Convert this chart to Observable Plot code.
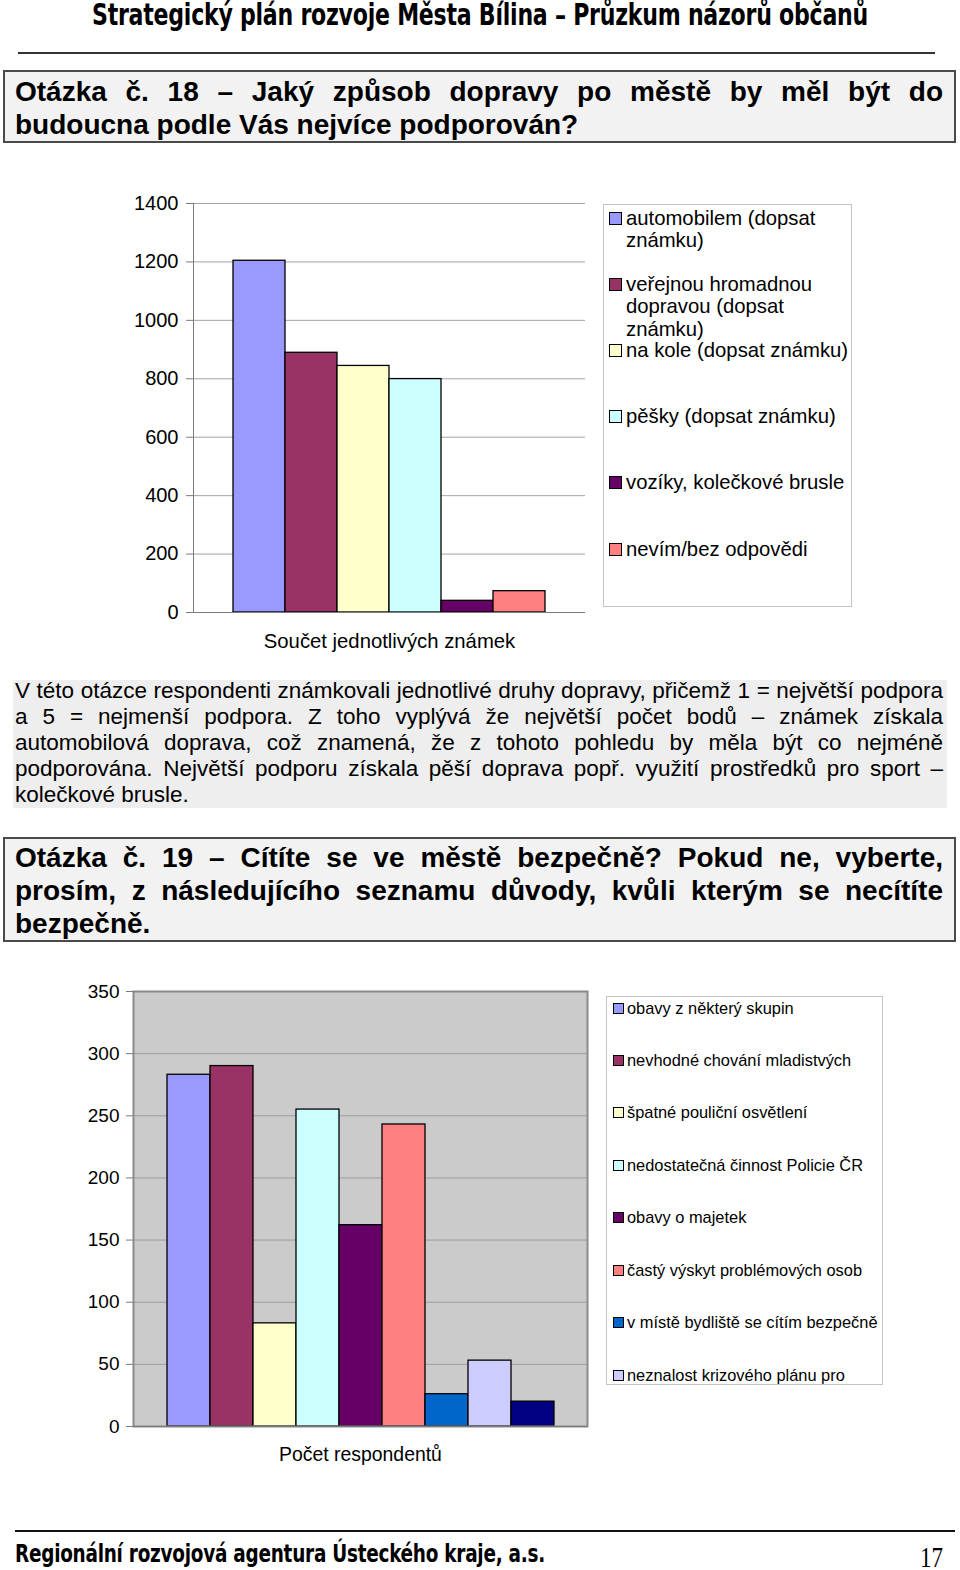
<!DOCTYPE html>
<html lang="cs">
<head>
<meta charset="utf-8">
<script src="https://cdn.jsdelivr.net/npm/d3@7"></script>
<script src="https://cdn.jsdelivr.net/npm/@observablehq/plot@0.6"></script>
<style>
  html, body { margin: 0; padding: 0; background: #fff; }
  body { width: 960px; height: 1570px; position: relative; overflow: hidden;
         font-family: "Liberation Sans", Arial, sans-serif; color: #000; }
  .abs { position: absolute; }
  .deco { font-family: "DejaVu Sans Condensed", "DejaVu Sans", sans-serif; font-weight: bold;
          white-space: nowrap; transform-origin: left top; letter-spacing: -0.3px; }
  .qbox { position: absolute; box-sizing: border-box; border: 2px solid #4a4a4a; background: #f2f2f2; }
  .qtext { position: absolute; font-weight: bold; font-size: 28px; line-height: 33px; }
  .line { display: block; text-align: justify; text-align-last: justify; white-space: nowrap; }
  .line.last { text-align-last: left; }
  .para { position: absolute; font-size: 22.5px; line-height: 26px; }
  .legend { position: absolute; box-sizing: border-box; border: 1px solid #c4c4c4; background: #fff; overflow: hidden; }
  .lg-item { position: absolute; }
  .sw { position: absolute; box-sizing: border-box; border: 1.5px solid #000; }
</style>
</head>
<body>
<script>
// ---------- DATA ----------
const pageTitle = "Strategický plán rozvoje Města Bílina – Průzkum názorů občanů";
const footerText = "Regionální rozvojová agentura Ústeckého kraje, a.s.";
const pageNumber = "17";

const q18Lines = ["Otázka č. 18 – Jaký způsob dopravy po městě by měl být do",
                  "budoucna podle Vás nejvíce podporován?"];
const q18Para = ["V této otázce respondenti známkovali jednotlivé druhy dopravy, přičemž 1 = největší podpora",
                 "a 5 = nejmenší podpora. Z\u00a0toho vyplývá že největší počet bodů – známek získala",
                 "automobilová doprava, což znamená, že z\u00a0tohoto pohledu by měla být co nejméně",
                 "podporována. Největší podporu získala pěší doprava popř. využití prostředků pro sport –",
                 "kolečkové brusle."];
const q19Lines = ["Otázka č. 19 – Cítíte se ve městě bezpečně? Pokud ne, vyberte,",
                  "prosím, z\u00a0následujícího seznamu důvody, kvůli kterým se necítíte",
                  "bezpečně."];

// Chart 1 (Q18)
const chart1Category = "Součet jednotlivých známek";
const modes = ["automobilem (dopsat známku)", "veřejnou hromadnou dopravou (dopsat známku)",
               "na kole (dopsat známku)", "pěšky (dopsat známku)",
               "vozíky, kolečkové brusle", "nevím/bez odpovědi"];
const modeValues = [1204, 889, 844, 799, 40, 73];
const modeColors = ["#9999ff", "#993366", "#ffffcc", "#ccffff", "#660066", "#ff8080"];
const yTicks1 = [0, 200, 400, 600, 800, 1000, 1200, 1400];

// Chart 2 (Q19)
const chart2Category = "Počet respondentů";
const reasons = ["obavy z některý skupin", "nevhodné chování mladistvých", "špatné pouliční osvětlení",
                 "nedostatečná činnost Policie ČR", "obavy o majetek", "častý výskyt problémových osob",
                 "v místě bydliště se cítím bezpečně", "neznalost krizového plánu pro", "jiné"];
const reasonValues = [283, 290, 83, 255, 162, 243, 26, 53, 20];
const reasonColors = ["#9999ff", "#993366", "#ffffcc", "#ccffff", "#660066", "#ff8080", "#0066cc", "#ccccff", "#000080"];
const yTicks2 = [0, 50, 100, 150, 200, 250, 300, 350];
const legend2Visible = 8; // the reference legend box shows only the first 8 entries

// ---------- helpers ----------
function el(tag, cls, style, text) {
  const e = document.createElement(tag);
  if (cls) e.className = cls;
  Object.assign(e.style, style || {});
  if (text != null) e.textContent = text;
  document.body.appendChild(e);
  return e;
}
function fitWidth(e, w) {
  const r = e.getBoundingClientRect().width;
  e.style.transform = `scaleX(${w / r})`;
}
function lines(container, arr) {
  arr.forEach((t, i) => {
    const s = document.createElement("span");
    s.className = "line" + (i === arr.length - 1 ? " last" : "");
    s.textContent = t;
    container.appendChild(s);
  });
}

// ---------- header ----------
const title = el("div", "abs deco", {left: "92px", top: "-1px", fontSize: "30px", lineHeight: "32px"}, pageTitle);
fitWidth(title, 776);
el("div", "abs", {left: "18px", top: "52px", width: "917px", height: "1.5px", background: "#333"});

// Q18 box
el("div", "qbox", {left: "3px", top: "70px", width: "953px", height: "73px"});
lines(el("div", "qtext", {left: "15px", top: "74.5px", width: "928px"}), q18Lines);

// ---------- chart 1 ----------
const data1 = modes.map((m, i) => ({mode: m, value: modeValues[i]}));
const chart1 = Plot.plot({
  width: 600, height: 480,
  marginLeft: 193, marginRight: 15, marginTop: 23, marginBottom: 48,
  style: {fontFamily: "'Liberation Sans', Arial, sans-serif", fontSize: "20px", color: "#000", background: "transparent", overflow: "visible"},
  x: {domain: modes, axis: null, paddingInner: 0, paddingOuter: 0.745},
  y: {domain: [0, 1400]},
  color: {domain: modes, range: modeColors},
  marks: [
    Plot.gridY(yTicks1, {stroke: "#a3a3a3", strokeOpacity: 1}),
    Plot.barY(data1, {x: "mode", y: "value", fill: "mode", stroke: "#000", strokeWidth: 1.3, inset: 0}),
    Plot.ruleY([0], {stroke: "#7a7a7a"}),
    Plot.frame({anchor: "left", stroke: "#7a7a7a"}),
    Plot.axisY({ticks: yTicks1, tickSize: 7, tickPadding: 8, tickFormat: d => String(d), label: null, stroke: "#7a7a7a"}),
    Plot.text([chart1Category], {frameAnchor: "bottom", dy: 35, text: d => d, fontSize: 20.3})
  ]
});
const c1 = el("div", "abs", {left: "0px", top: "180px"});
c1.appendChild(chart1);

// legend 1
const lg1 = el("div", "legend", {left: "603px", top: "204px", width: "249px", height: "403px"});
modes.forEach((m, i) => {
  const top = 1.5 + i * 66.2;
  const it = document.createElement("div");
  it.className = "lg-item";
  Object.assign(it.style, {left: "22px", top: top + "px", width: "226px", fontSize: "20.3px", lineHeight: "22.8px"});
  it.textContent = m;
  lg1.appendChild(it);
  const sw = document.createElement("div");
  sw.className = "sw";
  Object.assign(sw.style, {left: "5px", top: (top + 5) + "px", width: "13px", height: "13px", background: modeColors[i]});
  lg1.appendChild(sw);
});

// paragraph
el("div", "abs", {left: "13px", top: "680px", width: "934px", height: "128px", background: "#eeeeee"});
lines(el("div", "para", {left: "15px", top: "678px", width: "928px"}), q18Para);

// Q19 box
el("div", "qbox", {left: "3px", top: "837px", width: "953px", height: "105px"});
lines(el("div", "qtext", {left: "15px", top: "841px", width: "928px"}), q19Lines);

// ---------- chart 2 ----------
const data2 = reasons.map((r, i) => ({reason: r, value: reasonValues[i]}));
const chart2 = Plot.plot({
  width: 600, height: 510,
  marginLeft: 133, marginRight: 13, marginTop: 26, marginBottom: 49,
  style: {fontFamily: "'Liberation Sans', Arial, sans-serif", fontSize: "19px", color: "#000", background: "transparent", overflow: "visible"},
  x: {domain: reasons, axis: null, paddingInner: 0, paddingOuter: 0.752},
  y: {domain: [0, 350]},
  color: {domain: reasons, range: reasonColors},
  marks: [
    Plot.frame({fill: "#cbcbcb", stroke: null}),
    Plot.gridY(yTicks2, {stroke: "#9c9c9c", strokeOpacity: 1}),
    Plot.barY(data2, {x: "reason", y: "value", fill: "reason", stroke: "#000", strokeWidth: 1.3, inset: 0}),
    Plot.frame({stroke: "#8a8a8a", strokeWidth: 2}),
    Plot.ruleY([0], {stroke: "#7a7a7a"}),
    Plot.axisY({ticks: yTicks2, tickSize: 7, tickPadding: 7, tickFormat: d => String(d), label: null, stroke: "#7a7a7a"}),
    Plot.text([chart2Category], {frameAnchor: "bottom", dy: 34, text: d => d, fontSize: 19.4})
  ]
});
const c2 = el("div", "abs", {left: "0px", top: "965px"});
c2.appendChild(chart2);

// legend 2
const lg2 = el("div", "legend", {left: "606px", top: "996px", width: "277px", height: "389px"});
reasons.slice(0, legend2Visible).forEach((r, i) => {
  const top = 1.5 + i * 52.43;
  const it = document.createElement("div");
  it.className = "lg-item";
  Object.assign(it.style, {left: "20px", top: top + "px", fontSize: "16.4px", lineHeight: "18px", whiteSpace: "nowrap"});
  it.textContent = r;
  lg2.appendChild(it);
  const sw = document.createElement("div");
  sw.className = "sw";
  Object.assign(sw.style, {left: "6px", top: (top + 4) + "px", width: "11px", height: "11px", background: reasonColors[i]});
  lg2.appendChild(sw);
});

// ---------- footer ----------
el("div", "abs", {left: "15px", top: "1530px", width: "940px", height: "2px", background: "#111"});
const foot = el("div", "abs deco", {left: "15px", top: "1540px", fontSize: "25px", lineHeight: "28px"}, footerText);
fitWidth(foot, 530);
const pn = el("div", "abs", {left: "920px", top: "1541px", fontSize: "29px", lineHeight: "32px",
  fontFamily: "'Liberation Serif', 'Times New Roman', serif", transformOrigin: "left top", whiteSpace: "nowrap"}, pageNumber);
fitWidth(pn, 23);
</script>
</body>
</html>
